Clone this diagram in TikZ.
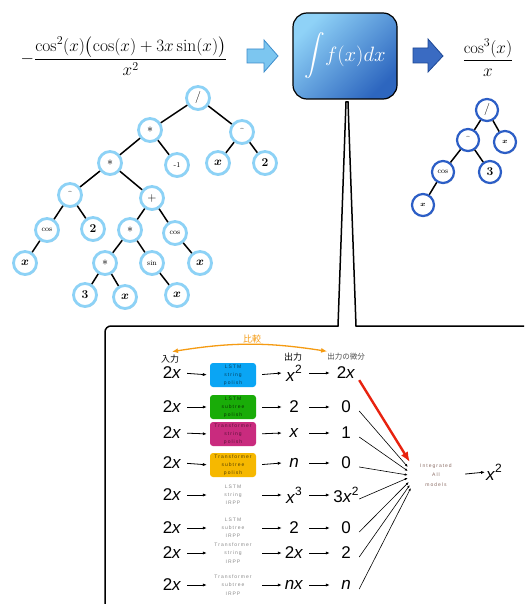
\documentclass[tikz,border=0pt]{standalone}
\usepackage{amsmath}
\usepackage{bm}
\usepackage{fontspec}
\newfontfamily\sansf{Liberation Sans}
\newfontfamily\tinyf[LetterSpace=20]{Liberation Sans}
\newfontfamily\cjkf{Noto Sans CJK JP}
\usetikzlibrary{arrows.meta,shadows,calc}
\definecolor{lblue}{HTML}{8DD2F6}
\definecolor{dblue}{HTML}{2C5EC6}
\definecolor{arrL}{HTML}{7CC6F0}
\definecolor{arrLd}{HTML}{3C8CCB}
\definecolor{arrD}{HTML}{3A6BC2}
\definecolor{arrDd}{HTML}{1D4795}
\definecolor{boxTop}{HTML}{8FD2F7}
\definecolor{boxBot}{HTML}{2D66BF}
\definecolor{cLS}{HTML}{0AA5F4}
\definecolor{cLT}{HTML}{19AC08}
\definecolor{cTS}{HTML}{C92B7E}
\definecolor{cTT}{HTML}{F6B800}
\definecolor{orng}{HTML}{F59B12}
\definecolor{redA}{HTML}{E8220F}
\definecolor{greyT}{HTML}{8A8A8A}
\definecolor{intT}{HTML}{8C6E66}
\newcommand\pw[1]{\raisebox{0.85ex}{\fontsize{12}{12}\selectfont #1}}
\newcommand\vx{\textit{x}}
\newcommand\bx{$\bm{x}$}
\newcommand\crt{\raisebox{1.5pt}{\fontsize{7}{7}\selectfont\textasciicircum}}
\begin{document}
\begin{tikzpicture}[x=1pt,y=-1pt,
  tn/.style={circle, draw=lblue, line width=2.8pt, fill=white, minimum size=23pt, inner sep=0pt,
    drop shadow={opacity=0.25,shadow xshift=0.8pt,shadow yshift=-1.2pt}, font=\fontsize{12}{12}\selectfont},
  rn/.style={tn, draw=dblue, line width=2.2pt, minimum size=22pt},
  sm/.style={font=\fontsize{7.5}{8}\selectfont},
  ed/.style={line width=1.5pt},
  inp/.style={font=\sansf\fontsize{17}{17}\selectfont, inner sep=0pt, minimum width=20pt},
  outp/.style={font=\sansf\fontsize{17}{17}\selectfont, inner sep=0pt, minimum width=24pt},
  derp/.style={font=\sansf\fontsize{17}{17}\selectfont, inner sep=0pt, minimum width=26pt},
  mb/.style={rounded corners=3pt, minimum width=46pt, minimum height=24pt, inner sep=0pt, align=center,
    font=\tinyf\fontsize{5}{8.2}\selectfont},
  ar/.style={line width=0.8pt, -{Latex[length=4pt,width=3.2pt]}},
  cv/.style={line width=0.6pt, -{Latex[length=3pt,width=2.4pt]}},
  jp/.style={inner sep=0pt, font=\cjkf\fontsize{9}{9}\selectfont}
]
\useasboundingbox (0,0) rectangle (524,604);
\clip (0,0) rectangle (524,604);
\fill[white] (0,0) rectangle (524,604);

% top formulas
\node[inner sep=0pt] (fl) at (124,56) {\fontsize{17.5}{21}\selectfont $-\dfrac{\cos^2(x)\bigl(\cos(x)+3x\sin(x)\bigr)}{x^2}$};
\node[inner sep=0pt] (fr) at (488,58) {\fontsize{16.5}{20}\selectfont $\dfrac{\cos^3(x)}{x}$};

% block arrows
\draw[fill=arrL, draw=arrLd, line width=0.8pt] (247,49) -- (264,49) -- (264,40) -- (278,56) -- (264,72) -- (264,63) -- (247,63) -- cycle;
\draw[fill=arrD, draw=arrDd, line width=0.8pt] (413,48) -- (428,48) -- (428,39) -- (443,56) -- (428,72) -- (428,63) -- (413,63) -- cycle;

% integral box
\node[draw=black, line width=1.2pt, rounded corners=14pt, minimum width=104pt, minimum height=86pt,
  top color=boxTop, bottom color=boxBot, shading angle=45, text=white, inner sep=0pt] (ib) at (345,56)
  {\fontsize{22}{22}\selectfont$\displaystyle\int\! f(x)dx$};

% left tree
\node[tn] (L1) at (198,98) {/};
\node[tn] (L2) at (150,130) {$\ast$};
\node[tn] (L3) at (242,132) {\crt};
\node[tn] (L4) at (110,163) {$\ast$};
\node[tn, sm] (L5) at (177,165) {-1};
\node[tn] (L6) at (218,163) {\bx};
\node[tn] (L7) at (265,163) {\textbf{2}};
\node[tn] (L8) at (70,195) {\crt};
\node[tn] (L9) at (152,198) {$+$};
\node[tn, sm] (L10) at (47,230) {cos};
\node[tn] (L11) at (93,229) {\textbf{2}};
\node[tn] (L12) at (130,230) {$\ast$};
\node[tn, sm] (L13) at (175,233) {cos};
\node[tn] (L14) at (25,263) {\bx};
\node[tn] (L15) at (105,263) {$\ast$};
\node[tn, sm] (L16) at (152,263) {sin};
\node[tn] (L17) at (200,263) {\bx};
\node[tn] (L18) at (85,295) {\textbf{3}};
\node[tn] (L19) at (125,297) {\bx};
\node[tn] (L20) at (177,295) {\bx};
\foreach \a/\b in {L1/L2,L1/L3,L2/L4,L2/L5,L3/L6,L3/L7,L4/L8,L4/L9,L8/L10,L8/L11,L10/L14,L9/L12,L9/L13,L12/L15,L12/L16,L13/L17,L15/L18,L15/L19,L16/L20}
  \draw[ed] (\a) -- (\b);

% right tree
\node[rn] (R1) at (487,110) {/};
\node[rn] (R2) at (468,140) {\crt};
\node[rn, sm] (R3) at (505,142) {$\bm{x}$};
\node[rn, sm] (R4) at (443,172) {cos};
\node[rn] (R5) at (490,172) {\textbf{3}};
\node[rn, sm] (R6) at (423,205) {$\bm{x}$};
\foreach \a/\b in {R1/R2,R1/R3,R2/R4,R2/R5,R4/R6}
  \draw[ed] (\a) -- (\b);

% callout frame
\draw[line width=1.5pt, line join=miter] (540,326) -- (356,326) -- (348,102) -- (346,102) -- (338,326) -- (111,326)
  arc[start angle=90, end angle=180, radius=6pt] -- (105,620);

% labels
\node[jp] (lin) at (170,359) {入力};
\node[jp] (lout) at (293,357) {出力};
\node[jp, text=black!70, font=\cjkf\fontsize{7.5}{7.5}\selectfont] (lder) at (346,357) {出力の微分};
\node[jp, text=orng, font=\cjkf\fontsize{9}{9}\selectfont] (lcmp) at (252,339) {比較};
\draw[orng, line width=1.3pt, {Latex[length=6pt,width=5pt]}-{Latex[length=6pt,width=5pt]}]
  ($(lin.north)+(2,-3)$) to[bend left=9] ($(lder.north west)+(0,-2)$);

% rows
\node[inp] (i1) at (172,373) {2\vx};
\node[mb, fill=cLS, text=black!60!cLS] (m1) at (233,375) {LSTM\\string\\polish};
\node[outp] (o1) at (294,373) {\vx\pw{2}};
\node[derp] (d1) at (346,373) {2\vx};

\node[inp] (i2) at (172,407) {2\vx};
\node[mb, fill=cLT, text=black!70!cLT] (m2) at (233,407) {LSTM\\subtree\\polish};
\node[outp] (o2) at (294,407) {2};
\node[derp] (d2) at (346,407) {0};

\node[inp] (i3) at (172,433) {2\vx};
\node[mb, fill=cTS, text=black!55!cTS] (m3) at (233,434) {Transformer\\string\\polish};
\node[outp] (o3) at (294,433) {\vx};
\node[derp] (d3) at (346,433) {1};

\node[inp] (i4) at (172,463) {2\vx};
\node[mb, fill=cTT, text=black!65!cTT] (m4) at (233,465) {Transformer\\subtree\\polish};
\node[outp] (o4) at (294,463) {\textit{n}};
\node[derp] (d4) at (346,463) {0};

\node[inp] (i5) at (172,495) {2\vx};
\node[mb, text=greyT] (m5) at (233,495) {LSTM\\string\\IRPP};
\node[outp] (o5) at (294,495) {\vx\pw{3}};
\node[derp] (d5) at (346,495) {3\vx\pw{2}};

\node[inp] (i6) at (172,528) {2\vx};
\node[mb, text=greyT] (m6) at (233,528) {LSTM\\subtree\\IRPP};
\node[outp] (o6) at (294,528) {2};
\node[derp] (d6) at (346,528) {0};

\node[inp] (i7) at (172,553) {2\vx};
\node[mb, text=greyT] (m7) at (233,553) {Transformer\\string\\IRPP};
\node[outp] (o7) at (294,553) {2\vx};
\node[derp] (d7) at (346,553) {2};

\node[inp] (i8) at (172,585) {2\vx};
\node[mb, text=greyT] (m8) at (233,585) {Transformer\\subtree\\IRPP};
\node[outp] (o8) at (294,585) {\textit{n}\vx};
\node[derp] (d8) at (346,585) {\textit{n}};

\foreach \k in {1,...,8} {
  \draw[ar, shorten <=5pt, shorten >=3pt] (i\k.east) -- (m\k.west);
  \draw[ar, shorten <=6pt] (m\k.east) -- (o\k.west);
  \draw[ar, shorten <=3pt, shorten >=3pt] (o\k.east) -- (d\k.west);
}

% integration
\node[inner sep=0pt, minimum width=38pt, align=center, text=intT, font=\tinyf\fontsize{5}{9.5}\selectfont] (int) at (436,475) {Integrated\\All\\models};
\node[inner sep=0pt, font=\sansf\fontsize{17}{17}\selectfont] (fin) at (494,472) {\vx\pw{2}};
\draw[ar, shorten <=10pt, shorten >=1pt] (int.east) -- (fin.west);

\draw[redA, line width=2.4pt, -{Latex[length=10pt,width=8pt]}] ($(d1.south east)+(0,1)$) -- ($(int.west)+(-7,-13)$);
\foreach \k/\dx/\dy in {2/-9/-8, 3/-9/-4, 4/-9/0, 5/-9/3, 6/-8/7, 7/-7/10, 8/-6/13}
  \draw[cv] ($(d\k.east)+(0,4)$) -- ($(int.west)+(\dx,\dy)$);
\end{tikzpicture}
\end{document}
